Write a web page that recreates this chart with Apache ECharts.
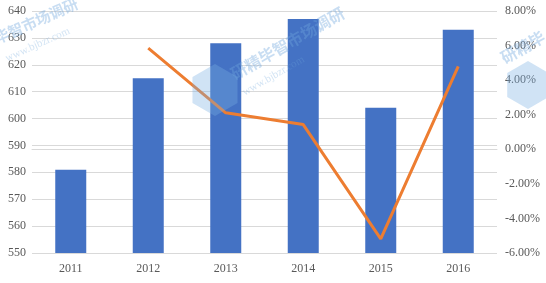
<!DOCTYPE html>
<html><head><meta charset="utf-8">
<script src="https://cdn.jsdelivr.net/npm/echarts@6/dist/echarts.min.js"></script>
<style>html,body{margin:0;padding:0;background:#fff}#c{width:546px;height:283px}</style>
</head><body><div id="c"></div>
<script>
var categories = ['2011','2012','2013','2014','2015','2016'];
var barValues = [581, 615, 628, 637, 604, 633];
var growthValues = [null, 5.85, 2.11, 1.43, -5.18, 4.80];
var leftTicks = {min:550, max:640, interval:10};
var rightTicks = {min:-6, max:8, interval:2};

var chart = echarts.init(document.getElementById('c'), null, {renderer:'canvas'});
var font = '"Liberation Serif", "DejaVu Serif", serif';
var wm = 'rgba(110,165,220,0.38)';
function hex(cx, cy, r){
  var pts = [];
  for (var i = 0; i < 6; i++) { var a = Math.PI/6 + i*Math.PI/3; pts.push([cx + r*Math.cos(a), cy + r*Math.sin(a)]); }
  return {type:'polygon', z:5, shape:{points:pts}, style:{fill:'rgba(120,175,225,0.35)'}};
}
chart.setOption({
  animation:false,
  grid:{left:32, right:49, top:11, bottom:30},
  xAxis:{type:'category', data:categories,
    axisLine:{lineStyle:{color:'#d9d9d9'}}, axisTick:{show:false},
    axisLabel:{color:'#595959', fontFamily:font, fontSize:12, margin:10}},
  yAxis:[
    {type:'value', min:leftTicks.min, max:leftTicks.max, interval:leftTicks.interval,
     axisLine:{show:false}, axisTick:{show:false},
     splitLine:{lineStyle:{color:'#d9d9d9'}},
     axisLabel:{color:'#595959', fontFamily:font, fontSize:12, margin:6}},
    {type:'value', min:rightTicks.min, max:rightTicks.max, interval:rightTicks.interval,
     axisLine:{show:false}, axisTick:{show:false}, splitLine:{show:false},
     axisLabel:{color:'#595959', fontFamily:font, fontSize:12, margin:8,
       formatter:function(v){return v.toFixed(2)+'%';}}}
  ],
  graphic:[
    hex(215, 90, 26),
    hex(528, 85, 24),
    {type:'text', x:-2, y:46, rotation:0.42, z:10,
     style:{text:'毕智市场调研', fill:wm, font:'bold 15px "Noto Sans CJK SC"', textVerticalAlign:'bottom'}},
    {type:'text', x:8, y:64, rotation:0.42, z:10,
     style:{text:'www.bjbzr.com', fill:'rgba(110,165,220,0.3)', font:'11px "Liberation Serif"', textVerticalAlign:'bottom'}},
    {type:'text', x:236, y:82, rotation:0.52, z:10,
     style:{text:'研精毕智市场调研', fill:wm, font:'bold 16px "Noto Sans CJK SC"', textVerticalAlign:'bottom'}},
    {type:'text', x:246, y:98, rotation:0.52, z:10,
     style:{text:'www.bjbzr.com', fill:'rgba(110,165,220,0.3)', font:'11px "Liberation Serif"', textVerticalAlign:'bottom'}},
    {type:'text', x:506, y:66, rotation:0.52, z:10,
     style:{text:'研精毕', fill:wm, font:'bold 16px "Noto Sans CJK SC"', textVerticalAlign:'bottom'}}
  ],
  series:[
    {type:'bar', data:barValues, barWidth:'40%', yAxisIndex:0,
     itemStyle:{color:'#4472C4'}},
    {type:'line', data:growthValues, yAxisIndex:1, showSymbol:false, symbol:'none', z:3,
     lineStyle:{color:'#ED7D31', width:3}}
  ]
});
</script></body></html>
